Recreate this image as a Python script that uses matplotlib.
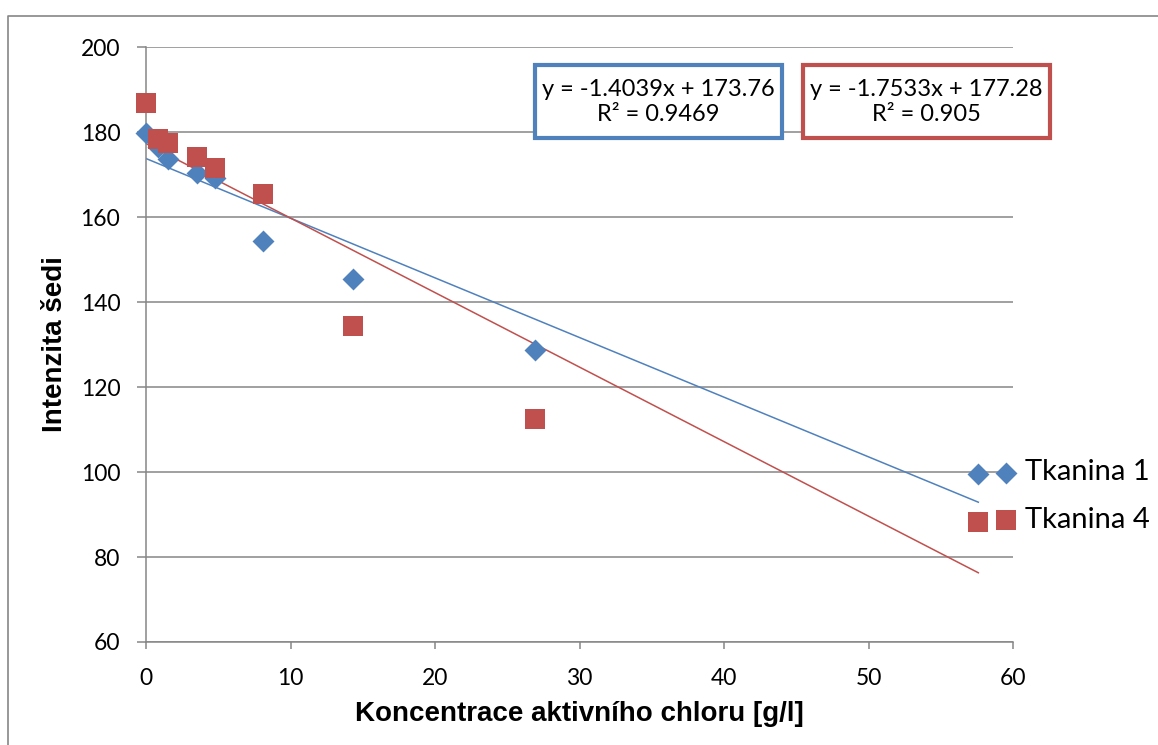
import matplotlib.pyplot as plt
from matplotlib.lines import Line2D
from matplotlib.patches import Rectangle
import numpy as np

# data
conc_1 = [0, 0.8, 1.5, 3.5, 4.8, 8.1, 14.3, 26.9, 57.6]
gray_1 = [179.8, 176.5, 173.6, 170.4, 169.2, 154.4, 145.4, 128.7, 99.5]
conc_4 = [0, 0.8, 1.5, 3.5, 4.8, 8.1, 14.3, 26.9, 57.6]
gray_4 = [186.8, 178.4, 177.4, 174.1, 171.5, 165.4, 134.4, 112.5, 88.2]

fit_1 = (-1.4039, 173.76, 0.9469)
fit_4 = (-1.7533, 177.28, 0.905)

blue = '#4f81bd'
red = '#c0504d'
grid_c = '#868686'

plt.rcParams['font.family'] = ['Lato', 'DejaVu Sans']

fig = plt.figure(figsize=(11.58, 7.45), dpi=100)
ax = fig.add_axes([146 / 1158, 1 - 642 / 745, 867 / 1158, 595 / 745])

ax.scatter(conc_1, gray_1, marker='D', s=125, color=blue, label='Tkanina 1',
           zorder=3, clip_on=False, linewidths=0)
ax.scatter(conc_4, gray_4, marker='s', s=225, color=red, label='Tkanina 4',
           zorder=3, clip_on=False, linewidths=0)

# linear trendlines from the fitted equations
xs = np.array([min(conc_1), max(conc_1)])
ax.plot(xs, fit_1[0] * xs + fit_1[1], color=blue, lw=1.1, zorder=2)
xs = np.array([min(conc_4), max(conc_4)])
ax.plot(xs, fit_4[0] * xs + fit_4[1], color=red, lw=1.1, zorder=2)

ax.set_xlim(0, 60)
ax.set_ylim(60, 200)
ax.set_xticks(range(0, 61, 10))
ax.set_yticks(range(60, 201, 20))
ax.grid(axis='y', color=grid_c, lw=1.1)
ax.set_axisbelow(True)
for s in ['top', 'right']:
    ax.spines[s].set_visible(False)
for s in ['left', 'bottom']:
    ax.spines[s].set_color(grid_c)
    ax.spines[s].set_linewidth(1.1)
ax.tick_params(colors=grid_c, labelcolor='black', labelsize=16.5, width=1.1)
ax.tick_params(axis='x', length=5, pad=13.5)
ax.tick_params(axis='y', length=6.5, pad=12)

ax.set_xlabel('Koncentrace aktivního chloru [g/l]', fontsize=20, fontweight='bold',
              family='Liberation Sans', labelpad=9)
ax.set_ylabel('Intenzita šedi', fontsize=20, fontweight='bold',
              family='Liberation Sans', labelpad=9)

# trendline equation boxes
eqs = ['y = -1.4039x + 173.76\nR² = 0.9469', 'y = -1.7533x + 177.28\nR² = 0.905']
box_left = [535, 803]
for txt, bl, c in zip(eqs, box_left, [blue, red]):
    fig.patches.append(Rectangle((bl / 1158, 1 - 138 / 745), 247 / 1158, 73 / 745,
                                 transform=fig.transFigure, fc='white', ec=c, lw=3))
    fig.text((bl + 123.5) / 1158, 1 - 102 / 745, txt, ha='center', va='center',
             fontsize=17, linespacing=1.2)

fig.legend(loc='center left', bbox_to_anchor=(0.856, 0.334), frameon=False, fontsize=21,
           handlelength=1.0, handletextpad=0.15, labelspacing=0.75, borderpad=0,
           borderaxespad=0)

# chart area border (cropped at right and bottom)
fig.add_artist(Line2D([8 / 1158, 8 / 1158, 1.0], [0.0, 1 - 16 / 745, 1 - 16 / 745],
                      transform=fig.transFigure, color=grid_c, lw=1.2))

plt.savefig('out.png', dpi=100)
